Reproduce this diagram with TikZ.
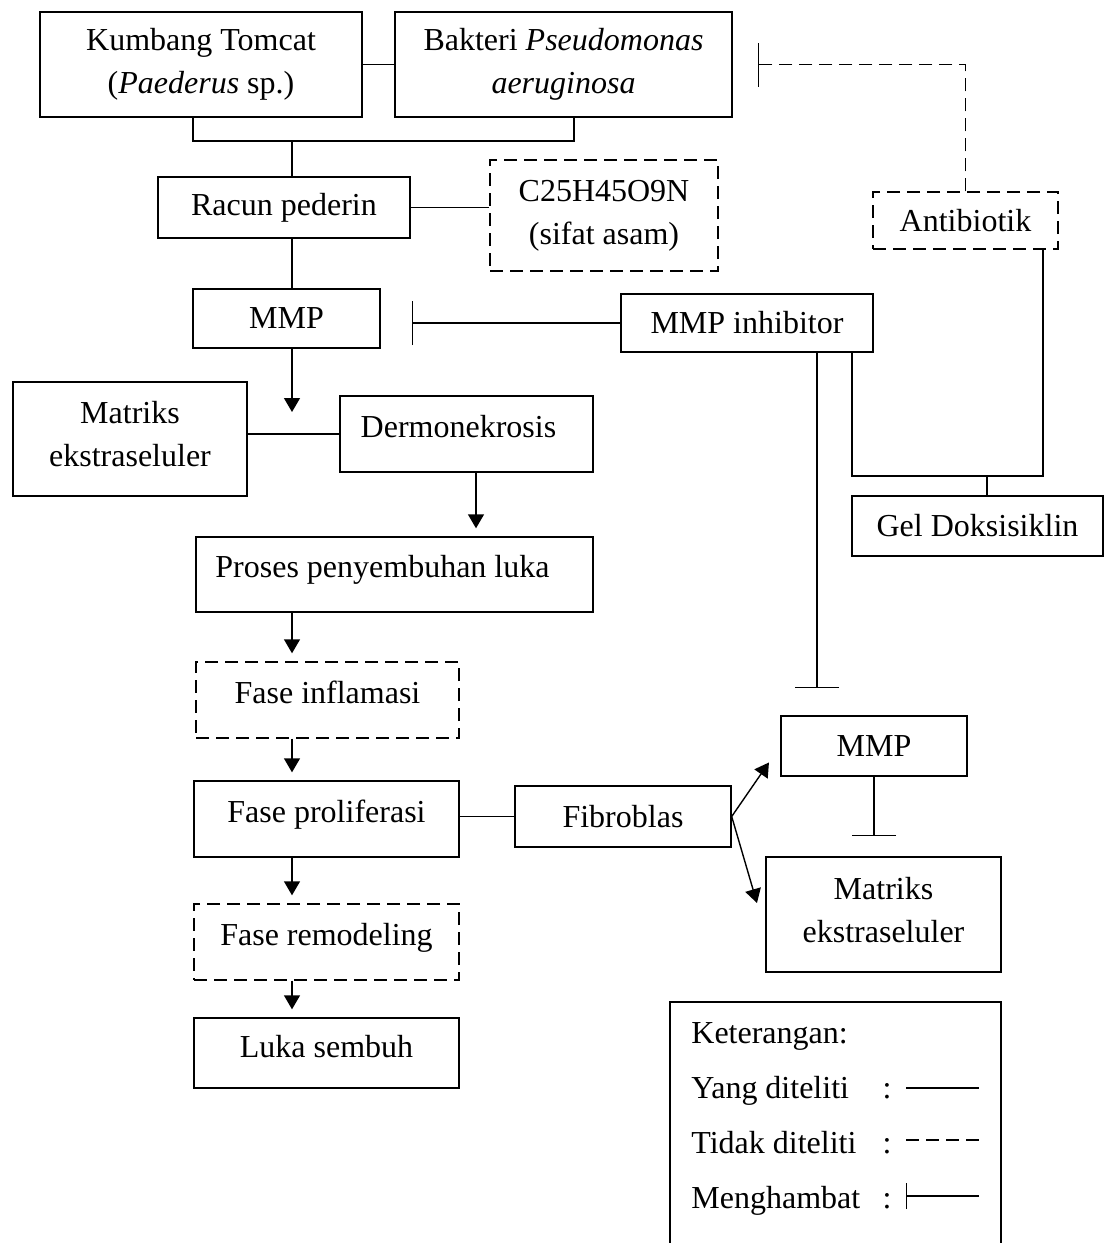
\documentclass[tikz,border=0pt]{standalone}
\usepackage{fontspec}
\setmainfont{Liberation Serif}
\usepackage{tikz}
\usetikzlibrary{arrows.meta, positioning}

\tikzset{
	kotak/.style={draw, line width=0.7pt, inner sep=0pt, align=center, font=\fontsize{16}{21.5}\selectfont},
	naik/.style={text height=11pt, text depth=#1},
	naik/.default=8pt,
	putus/.style={dash pattern=on 6.5pt off 3.5pt},
	garis/.style={line width=0.7pt},
	panah/.style={line width=0.7pt, -{Triangle[length=7pt, width=8pt]}, shorten >=4pt},
	hambat/.style={line width=0.7pt, -{Bar[width=22pt]}},
	teks/.style={anchor=base west, inner sep=0pt, font=\fontsize{16}{21.5}\selectfont},
}

\begin{document}
\begin{tikzpicture}[x=0.5pt, y=-0.5pt]
	\useasboundingbox (0,0) rectangle (1104,1243);

	\node [kotak, minimum width=161pt, minimum height=52.5pt] (tomcat) at (201,64.5) {Kumbang Tomcat\\(\textit{Paederus} sp.)};
	\node [kotak, minimum width=168.5pt, minimum height=52.5pt] (bakteri) at (563.5,64.5) {Bakteri \textit{Pseudomonas}\\\textit{aeruginosa}};
	\node [kotak, minimum width=126pt, minimum height=30.5pt] (racun) at (284,207.5) {Racun pederin};
	\node [kotak, putus, minimum width=114pt, minimum height=55.5pt] (senyawa) at (604,215.5) {C25H45O9N\\(sifat asam)};
	\node [kotak, minimum width=93.5pt, minimum height=29.5pt] (mmpa) at (286.5,318.5) {MMP};
	\node [kotak, putus, minimum width=92.5pt, minimum height=28.5pt] (antibiotik) at (965.5,220.5) {Antibiotik};
	\node [kotak, minimum width=126pt, minimum height=29pt] (inhibitor) at (747,323) {MMP inhibitor};
	\node [kotak, text depth=5pt, minimum width=117pt, minimum height=57pt] (matriksa) at (130,439) {Matriks\\ekstraseluler};
	\node [kotak, naik, minimum width=126.5pt, minimum height=38pt] (dermo) at (466.5,434) {\hspace*{-8pt}Dermonekrosis};
	\node [kotak, naik, minimum width=198.5pt, minimum height=37.5pt] (proses) at (394.5,574.5) {\hspace*{-12pt}Proses penyembuhan luka};
	\node [kotak, minimum width=125.5pt, minimum height=30pt] (gel) at (977.5,526) {Gel Doksisiklin};
	\node [kotak, putus, naik, minimum width=131.5pt, minimum height=38pt] (inflamasi) at (327.5,700) {Fase inflamasi};
	\node [kotak, naik, minimum width=132.5pt, minimum height=38pt] (proliferasi) at (326.5,819) {Fase proliferasi};
	\node [kotak, minimum width=108pt, minimum height=30.5pt] (fibroblas) at (623,816.5) {Fibroblas};
	\node [kotak, minimum width=93pt, minimum height=30pt] (mmpb) at (874,746) {MMP};
	\node [kotak, text depth=5pt, minimum width=117.5pt, minimum height=57.5pt] (matriksb) at (883.5,914.5) {Matriks\\ekstraseluler};
	\node [kotak, putus, naik, minimum width=132.5pt, minimum height=38pt] (remodeling) at (326.5,942) {Fase remodeling};
	\node [kotak, naik=6.5pt, minimum width=132.5pt, minimum height=35pt] (sembuh) at (326.5,1053) {Luka sembuh};

	\coordinate (jA) at (292,141);
	\coordinate (jC) at (987,476);
	\coordinate (tipC) at (757,903);

	\draw [garis] (tomcat) -- (bakteri);
	\draw [garis] ([xshift=-4pt]tomcat.south) |- (jA) -| ([xshift=5.25pt]bakteri.south);
	\draw [garis] (jA) -- (jA |- racun.north);
	\draw [garis] (racun.east) -- (racun.east -| senyawa.west);
	\draw [garis] (jA |- racun.south) -- (jA |- mmpa.north);
	\draw [panah, shorten >=11pt] (jA |- mmpa.south) -- (jA |- dermo.west);
	\draw [garis] (dermo.west) -- (dermo.west -| matriksa.east);
	\draw [panah] ([xshift=4.75pt]dermo.south) -- ([xshift=4.75pt]dermo.south |- proses.north);
	\foreach \a/\b in {proses/inflamasi, inflamasi/proliferasi, proliferasi/remodeling, remodeling/sembuh}{
		\draw [panah] (jA |- \a.south) -- (jA |- \b.north);
	}
	\draw [garis] (fibroblas.west -| proliferasi.east) -- (fibroblas.west);
	\draw [panah, shorten >=10pt] (fibroblas.east) -- (mmpb.west);
	\draw [panah, shorten >=0pt] (fibroblas.east) -- (tipC);

	\draw [hambat, putus, shorten >=12.5pt] (antibiotik.north) |- (bakteri.east);
	\draw [hambat, shorten >=15.5pt] (inhibitor.west) -- (inhibitor.west -| mmpa.east);
	\draw [garis] ([xshift=38.75pt]antibiotik.south) |- (jC) -| ([xshift=52.5pt]inhibitor.south);
	\draw [garis] (jC) -- (jC |- gel.north);
	\draw [hambat, shorten >=13.5pt] ([xshift=35pt]inhibitor.south) -- ([xshift=35pt]inhibitor.south |- mmpb.north);
	\draw [hambat, shorten >=10pt] (mmpb.south) -- (mmpb.south |- matriksb.north);

	\draw [garis] (670,1243) |- (1001,1002) -- (1001,1243);
	\node [teks] (ket) at (691,1043) {Keterangan:};
	\foreach \y/\n/\t in {1098/yang/Yang diteliti, 1153/tidak/Tidak diteliti, 1208/hmb/Menghambat}{
		\node [teks] (\n) at (691,\y) {\t};
		\node [teks, anchor=base] (\n titik) at (887,\y) {:};
	}
	\draw [garis] (906,1088) -- (979,1088);
	\draw [garis, putus] (906,1140) -- (979,1140);
	\draw [line width=0.7pt, -{Bar[width=13pt]}] (979,1196) -- (906,1196);
\end{tikzpicture}
\end{document}
